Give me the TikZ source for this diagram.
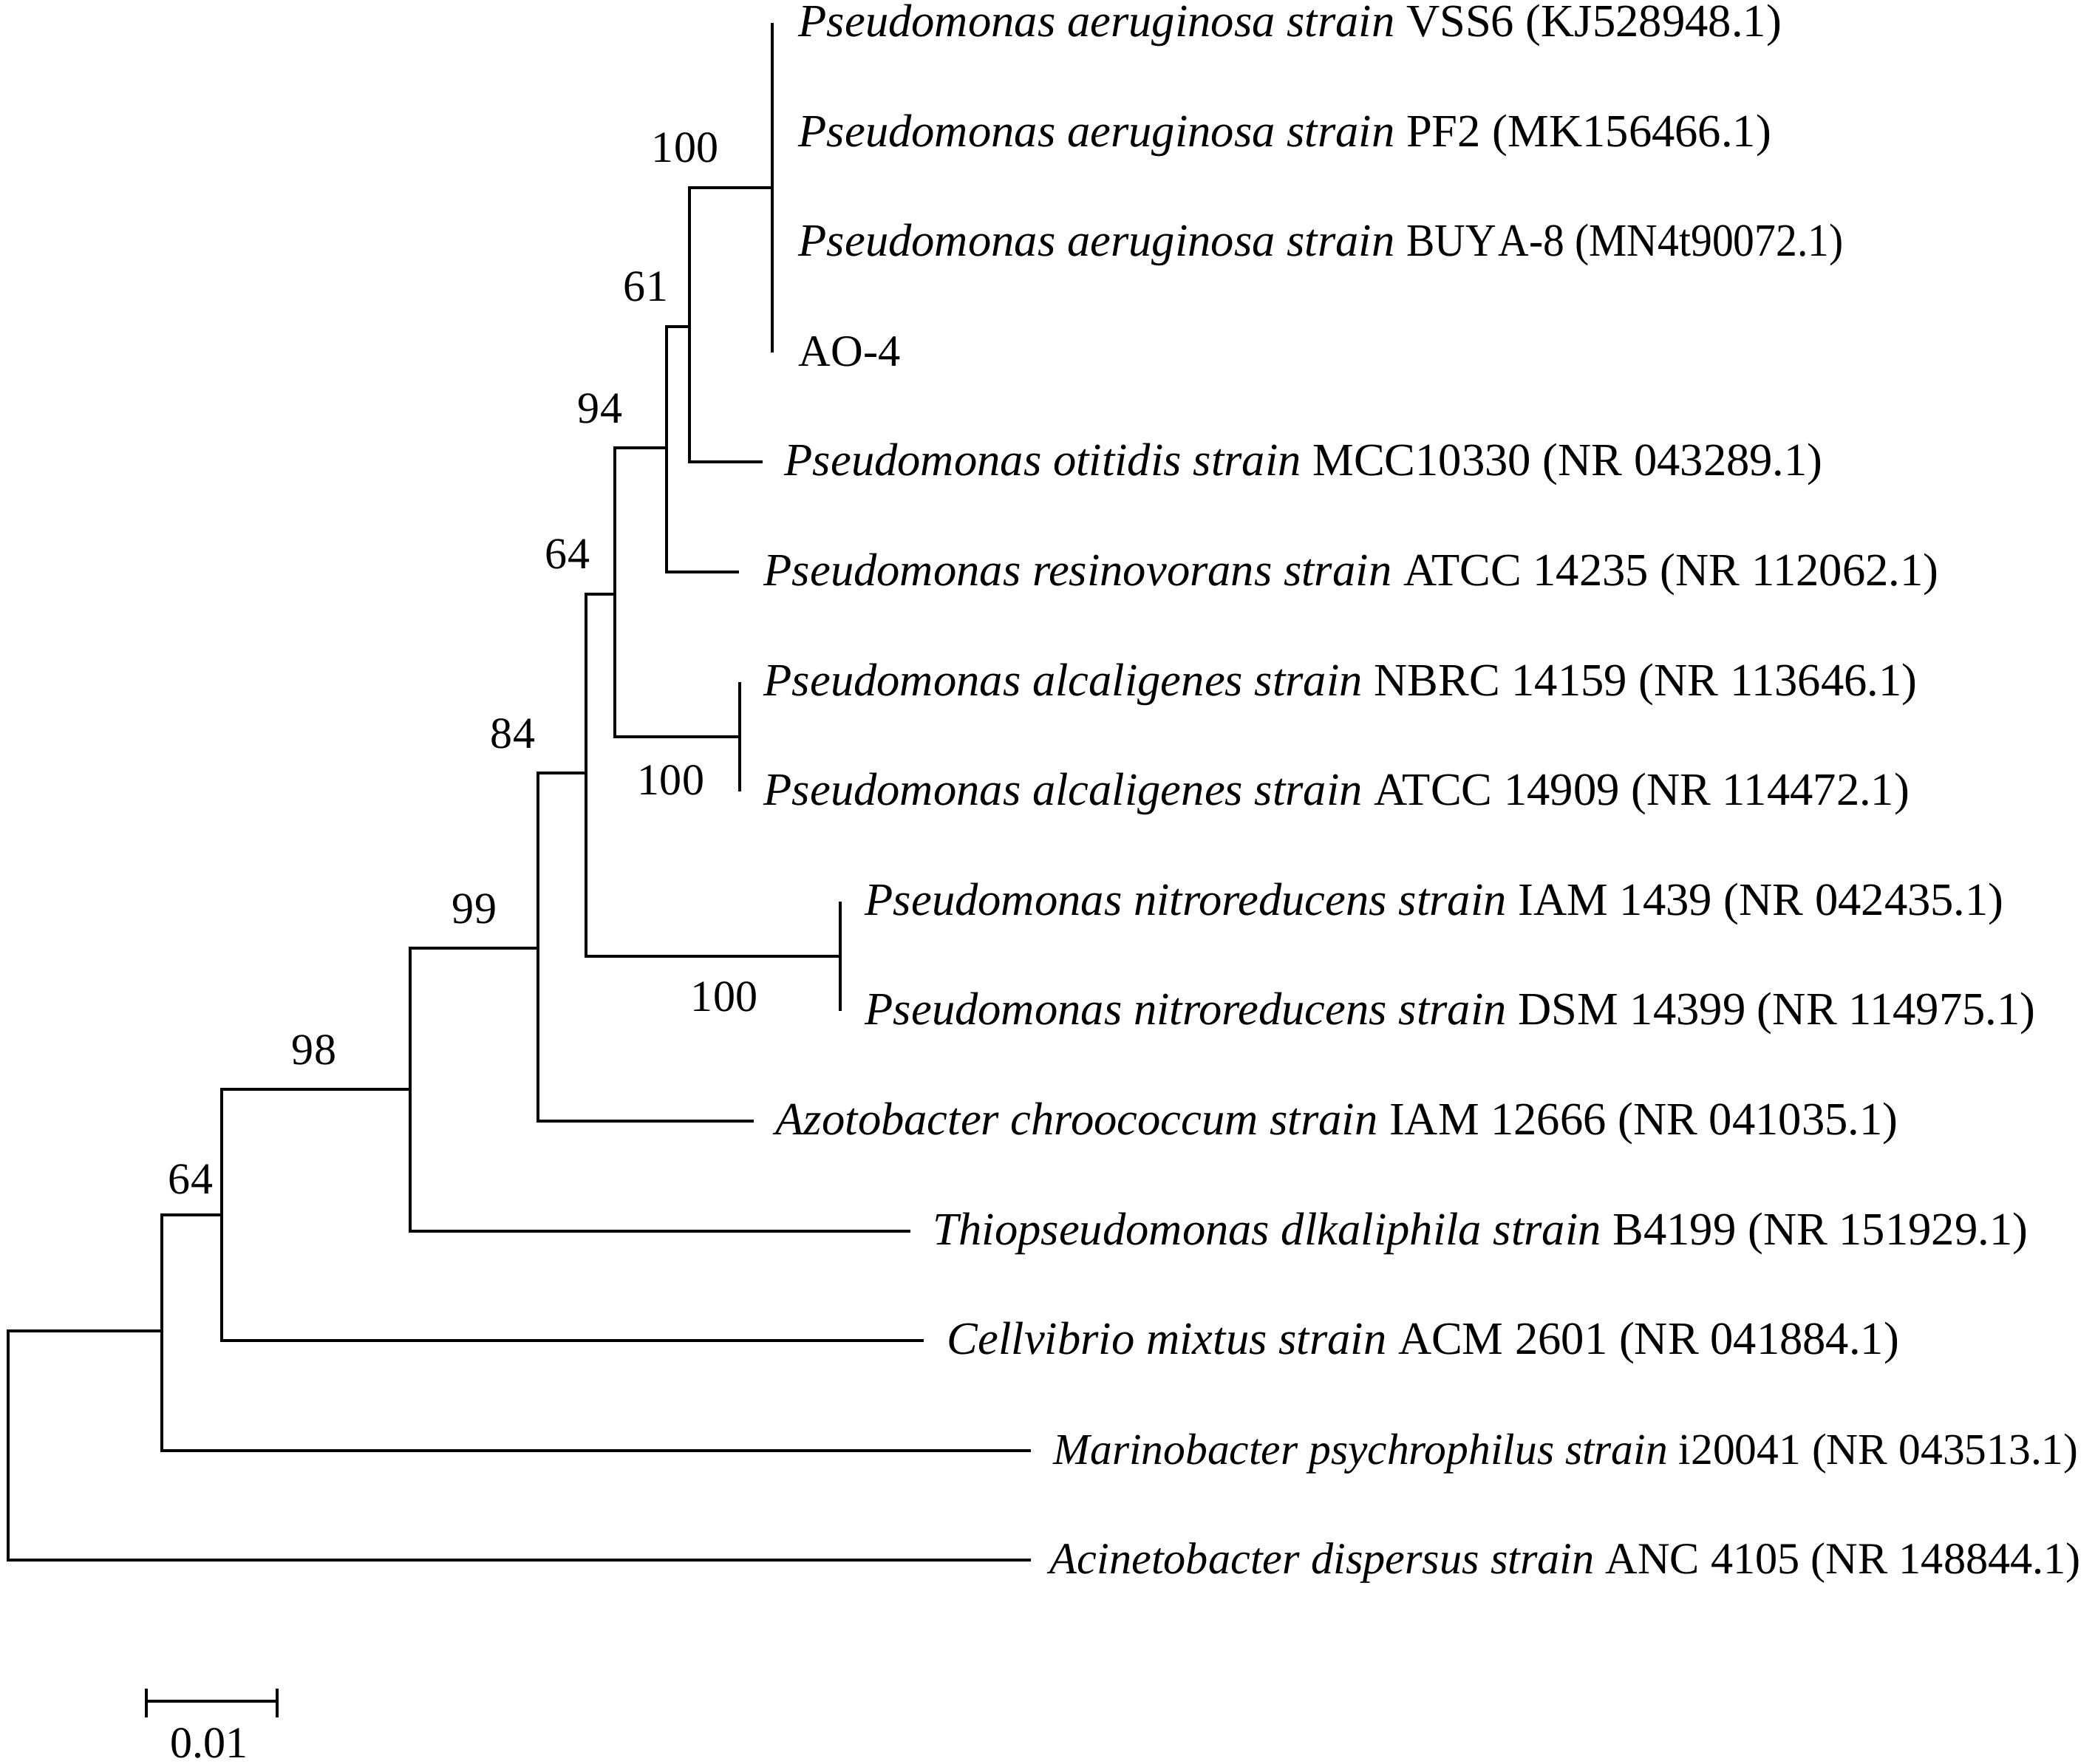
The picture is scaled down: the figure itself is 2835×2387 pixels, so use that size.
\documentclass[tikz,border=0pt]{standalone}
\usepackage{fontspec}
\usepackage{graphicx}
\setmainfont{Liberation Serif}
\begin{document}
\begin{tikzpicture}[x=0.01cm,y=-0.01cm,
  br/.style={line width=0.035cm, line join=miter},
  taxon/.style={anchor=base west, inner sep=0pt, font=\fontsize{17.8}{20}\selectfont},
  boot/.style={inner sep=0pt, font=\fontsize{17.07}{20}\selectfont}]
\useasboundingbox (0,0) rectangle (2835,2387);
% internal nodes
\coordinate (R) at (11,1956);
\coordinate (A) at (219,1801);
\coordinate (B) at (300,1644);
\coordinate (C) at (555,1474);
\coordinate (D) at (728,1283);
\coordinate (E) at (793,1046);
\coordinate (N) at (1137,1294);
\coordinate (F) at (832,804);
\coordinate (L) at (1001,997);
\coordinate (G) at (902,606);
\coordinate (H) at (933,442);
\coordinate (P) at (1045,254);
% tips
\coordinate (t1) at (1045,31);
\coordinate (t2) at (1045,180);
\coordinate (t3) at (1045,328);
\coordinate (t4) at (1045,477);
\coordinate (t5) at (1032,625);
\coordinate (t6) at (1000,774);
\coordinate (t7) at (1001,923);
\coordinate (t8) at (1001,1071);
\coordinate (t9) at (1137,1220);
\coordinate (t10) at (1137,1368);
\coordinate (t11) at (1020,1517);
\coordinate (t12) at (1232,1666);
\coordinate (t13) at (1250,1814);
\coordinate (t14) at (1395,1963);
\coordinate (t15) at (1395,2111);
% branches
\draw[br] (R) |- (A);
\draw[br] (R) |- (t15);
\draw[br] (A) |- (B);
\draw[br] (A) |- (t14);
\draw[br] (B) |- (C);
\draw[br] (B) |- (t13);
\draw[br] (C) |- (D);
\draw[br] (C) |- (t12);
\draw[br] (D) |- (E);
\draw[br] (D) |- (t11);
\draw[br] (E) |- (F);
\draw[br] (E) |- (N);
\draw[br] (N) |- (t9);
\draw[br] (N) |- (t10);
\draw[br] (F) |- (G);
\draw[br] (F) |- (L);
\draw[br] (L) |- (t7);
\draw[br] (L) |- (t8);
\draw[br] (G) |- (H);
\draw[br] (G) |- (t6);
\draw[br] (H) |- (P);
\draw[br] (H) |- (t5);
\draw[br] (P) |- (t1);
\draw[br] (P) |- (t2);
\draw[br] (P) |- (t3);
\draw[br] (P) |- (t4);
% taxon labels
\node[taxon] (n1) at (1080,49) {\textit{Pseudomonas aeruginosa strain} VSS6 (KJ528948.1)};
\node[taxon] (n2) at (1080,198) {\textit{Pseudomonas aeruginosa strain} PF2 (MK156466.1)};
\node[taxon] (n3) at (1080,346) {\textit{Pseudomonas aeruginosa strain} \scalebox{0.92}[1]{BUY\kern0.05em A-8 (MN4t90072.1)}};
\node[taxon, font=\fontsize{17.2}{20}\selectfont] (n4) at (1080,495) {AO-4};
\node[taxon] (n5) at (1061,643) {\textit{Pseudomonas otitidis strain} MCC10330 (NR 043289.1)};
\node[taxon] (n6) at (1033,792) {\textit{Pseudomonas resinovorans strain} ATCC 14235 (NR 112062.1)};
\node[taxon] (n7) at (1033,941) {\textit{Pseudomonas alcaligenes strain} NBRC 14159 (NR 113646.1)};
\node[taxon] (n8) at (1033,1089) {\textit{Pseudomonas alcaligenes strain} ATCC 14909 (NR 114472.1)};
\node[taxon] (n9) at (1170,1238) {\textit{Pseudomonas nitroreducens strain} IAM 1439 (NR 042435.1)};
\node[taxon] (n10) at (1170,1386) {\textit{Pseudomonas nitroreducens strain} DSM 14399 (NR 114975.1)};
\node[taxon] (n11) at (1049,1535) {\textit{Azotobacter chroococcum strain} IAM 12666 (NR 041035.1)};
\node[taxon] (n12) at (1262,1684) {\textit{Thiopseudomonas dlkaliphila strain} B4199 (NR 151929.1)};
\node[taxon] (n13) at (1281,1832) {\textit{Cellvibrio mixtus strain} ACM 2601 (NR 041884.1)};
\node[taxon, font=\fontsize{16.93}{20}\selectfont] (n14) at (1425,1981) {\textit{Marinobacter psychrophilus strain} i20041 (NR 043513.1)};
\node[taxon, font=\fontsize{17.15}{20}\selectfont] (n15) at (1420,2129) {\textit{Acinetobacter dispersus strain} ANC 4105 (NR 148844.1)};
% bootstrap values
\node[boot] (b1) at (927,200) {100};
\node[boot] (b2) at (874,388) {61};
\node[boot] (b3) at (812,553) {94};
\node[boot] (b4) at (768,750) {64};
\node[boot] (b5) at (694,993) {84};
\node[boot] (b6) at (908,1056) {100};
\node[boot] (b7) at (642,1230) {99};
\node[boot] (b8) at (980,1349) {100};
\node[boot] (b9) at (425,1421) {98};
\node[boot] (b10) at (258,1596) {64};
% scale bar
\coordinate (s1) at (198,2302);
\coordinate (s2) at (375,2302);
\draw[br] (s1) -- (s2);
\draw[br] ([yshift=0.17cm]s1) -- ([yshift=-0.22cm]s1);
\draw[br] ([yshift=0.17cm]s2) -- ([yshift=-0.22cm]s2);
\node[boot] (sl) at (283,2359) {0.01};
\end{tikzpicture}
\end{document}
